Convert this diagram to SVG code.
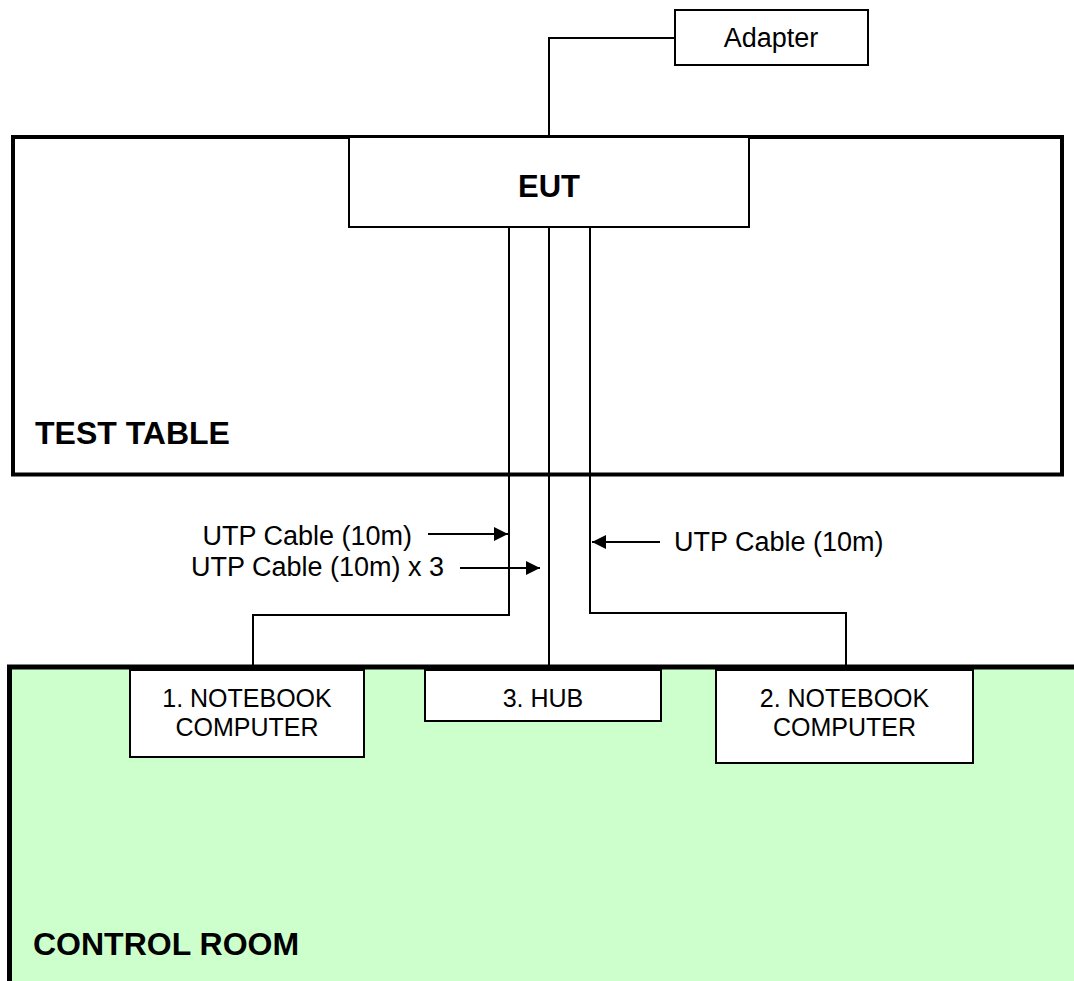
<svg xmlns="http://www.w3.org/2000/svg" width="1074" height="981" viewBox="0 0 1074 981">
<style>
.box{fill:#fff;stroke:#000;stroke-width:2}
.wire{fill:none;stroke:#000;stroke-width:2}
.t{font-family:"Liberation Sans",Arial,sans-serif;font-size:25px;fill:#000}
.lbl{font-size:27px}
.b{font-family:"Liberation Sans",Arial,sans-serif;font-weight:bold;fill:#000}
</style>
<defs>
<marker id="ah" viewBox="0 0 10 10" refX="10" refY="5" markerWidth="7" markerHeight="7" markerUnits="strokeWidth" orient="auto">
<path d="M0,0 L10,5 L0,10 Z" fill="#000"/>
</marker>
</defs>
<rect width="1074" height="981" fill="#fff"/>
<g id="control-room">
<rect x="9.5" y="667" width="1080" height="330" fill="#CCFFCC" stroke="#000" stroke-width="5"/>
<text class="b" x="33" y="955" font-size="32">CONTROL ROOM</text>
</g>
<g id="test-table">
<rect x="13" y="137" width="1049" height="337.5" fill="#fff" stroke="#000" stroke-width="4"/>
<text class="b" x="35" y="444" font-size="32">TEST TABLE</text>
</g>
<g id="connectors">
<polyline class="wire" points="549,137 549,38 675,38"/>
<polyline class="wire" points="509,227 509,615 253,615 253,667"/>
<polyline class="wire" points="549,227 549,670"/>
<polyline class="wire" points="590,227 590,613 846,613 846,667"/>
<line class="wire" x1="428" y1="534" x2="508" y2="534" marker-end="url(#ah)"/>
<line class="wire" x1="460" y1="568" x2="540" y2="568" marker-end="url(#ah)"/>
<line class="wire" x1="660" y1="542" x2="592" y2="542" marker-end="url(#ah)"/>
</g>
<g id="adapter">
<rect class="box" x="675" y="10" width="193" height="55"/>
<text class="t lbl" x="771" y="47" text-anchor="middle">Adapter</text>
</g>
<g id="eut">
<rect class="box" x="349" y="137" width="400" height="90"/>
<text class="b" x="549" y="197" font-size="31" text-anchor="middle">EUT</text>
</g>
<g id="notebook1">
<rect class="box" x="130" y="670" width="234" height="87"/>
<text class="t" x="247" y="707" text-anchor="middle">1. NOTEBOOK</text>
<text class="t" x="247" y="736" text-anchor="middle">COMPUTER</text>
</g>
<g id="hub">
<rect class="box" x="425" y="670" width="236" height="51"/>
<text class="t" x="543" y="707" text-anchor="middle">3. HUB</text>
</g>
<g id="notebook2">
<rect class="box" x="716" y="670" width="257" height="93"/>
<text class="t" x="844.5" y="707" text-anchor="middle">2. NOTEBOOK</text>
<text class="t" x="844.5" y="736" text-anchor="middle">COMPUTER</text>
</g>
<g id="labels">
<text class="t lbl" x="412" y="545" text-anchor="end">UTP Cable (10m)</text>
<text class="t lbl" x="444" y="576" text-anchor="end">UTP Cable (10m) x 3</text>
<text class="t lbl" x="674" y="551">UTP Cable (10m)</text>
</g>
</svg>
